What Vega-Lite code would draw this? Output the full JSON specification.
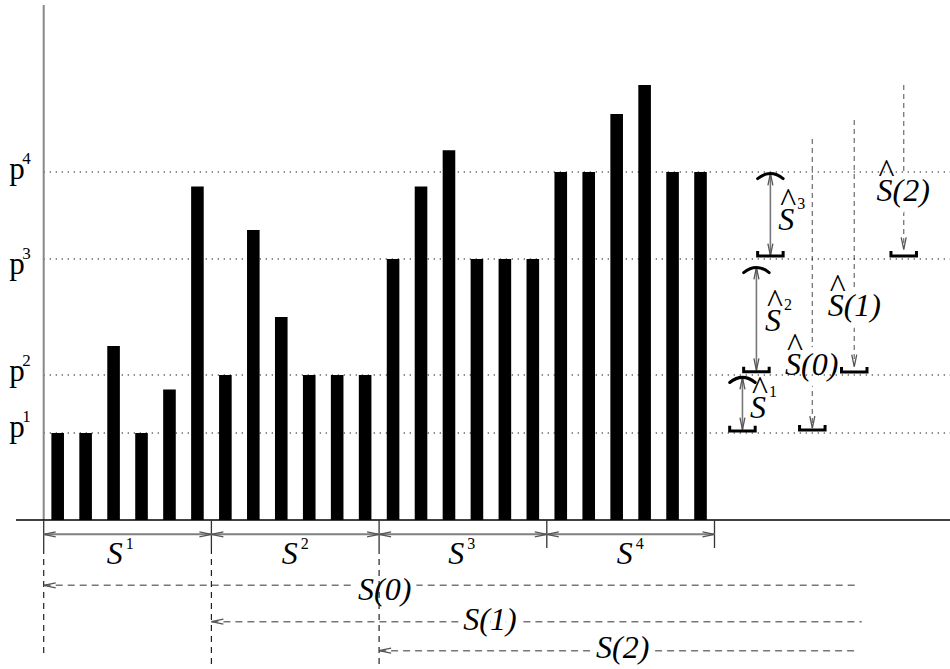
{
  "$schema": "https://vega.github.io/schema/vega-lite/v6.json",
  "width": 950,
  "height": 669,
  "padding": 0,
  "autosize": {"type": "none"},
  "background": "white",
  "config": {"view": {"stroke": null}},
  "datasets": {
    "bars": [
      {"x": 0.5, "y": 3}, {"x": 1.5, "y": 3}, {"x": 2.5, "y": 6}, {"x": 3.5, "y": 3}, {"x": 4.5, "y": 4.5}, {"x": 5.5, "y": 11.5},
      {"x": 6.5, "y": 5}, {"x": 7.5, "y": 10}, {"x": 8.5, "y": 7}, {"x": 9.5, "y": 5}, {"x": 10.5, "y": 5}, {"x": 11.5, "y": 5},
      {"x": 12.5, "y": 9}, {"x": 13.5, "y": 11.5}, {"x": 14.5, "y": 12.75}, {"x": 15.5, "y": 9}, {"x": 16.5, "y": 9}, {"x": 17.5, "y": 9},
      {"x": 18.5, "y": 12}, {"x": 19.5, "y": 12}, {"x": 20.5, "y": 14}, {"x": 21.5, "y": 15}, {"x": 22.5, "y": 12}, {"x": 23.5, "y": 12}
    ],
    "segs": [
      {"k": "axis", "x": 0, "x2": 0, "y": 0, "y2": 17.76},
      {"k": "base", "x": -0.991, "x2": 32.43, "y": 0, "y2": 0},
      {"k": "tick", "x": 0, "x2": 0, "y": 0, "y2": -0.966},
      {"k": "tick", "x": 6, "x2": 6, "y": 0, "y2": -0.966},
      {"k": "tick", "x": 12, "x2": 12, "y": 0, "y2": -0.966},
      {"k": "tick", "x": 18, "x2": 18, "y": 0, "y2": -0.966},
      {"k": "tick", "x": 24, "x2": 24, "y": 0, "y2": -0.966},
      {"k": "vdash", "x": 0, "x2": 0, "y": -0.966, "y2": -4.759},
      {"k": "vdash", "x": 6, "x2": 6, "y": -0.966, "y2": -5.14},
      {"k": "vdash", "x": 12, "x2": 12, "y": -0.966, "y2": -5.14},
      {"k": "span", "x": 0, "x2": 6, "y": -0.493, "y2": -0.493},
      {"k": "span", "x": 6, "x2": 12, "y": -0.493, "y2": -0.493},
      {"k": "span", "x": 12, "x2": 18, "y": -0.493, "y2": -0.493},
      {"k": "span", "x": 18, "x2": 24, "y": -0.493, "y2": -0.493},
      {"k": "sdash", "x": 0, "x2": 29.09, "y": -2.252, "y2": -2.252},
      {"k": "sdash", "x": 6, "x2": 29.27, "y": -3.507, "y2": -3.507},
      {"k": "sdash", "x": 12, "x2": 29.13, "y": -4.507, "y2": -4.507},
      {"k": "hdash", "x": 27.5, "x2": 27.5, "y": 13.14, "y2": 3.17},
      {"k": "hdash", "x": 29, "x2": 29, "y": 13.79, "y2": 5.29},
      {"k": "hdash", "x": 30.77, "x2": 30.77, "y": 15.0, "y2": 9.33},
      {"k": "harrow", "x": 25, "x2": 25, "y": 3.12, "y2": 4.92},
      {"k": "harrow", "x": 25.5, "x2": 25.5, "y": 5.16, "y2": 8.71},
      {"k": "harrow", "x": 26, "x2": 26, "y": 9.12, "y2": 11.95},
      {"k": "pdot", "x": 0, "x2": 32.43, "y": 3, "y2": 3},
      {"k": "pdot", "x": 0, "x2": 32.43, "y": 5, "y2": 5},
      {"k": "pdot", "x": 0, "x2": 32.43, "y": 9, "y2": 9},
      {"k": "pdot", "x": 0, "x2": 32.43, "y": 12, "y2": 12}
    ],
    "heads": [
      {"x": 0, "y": -0.493, "d": "L"}, {"x": 6, "y": -0.493, "d": "R"},
      {"x": 6, "y": -0.493, "d": "L"}, {"x": 12, "y": -0.493, "d": "R"},
      {"x": 12, "y": -0.493, "d": "L"}, {"x": 18, "y": -0.493, "d": "R"},
      {"x": 18, "y": -0.493, "d": "L"}, {"x": 24, "y": -0.493, "d": "R"},
      {"x": 0, "y": -2.252, "d": "L"}, {"x": 6, "y": -3.507, "d": "L"}, {"x": 12, "y": -4.507, "d": "L"},
      {"x": 25, "y": 4.92, "d": "U"}, {"x": 25, "y": 3.12, "d": "D"},
      {"x": 25.5, "y": 8.71, "d": "U"}, {"x": 25.5, "y": 5.16, "d": "D"},
      {"x": 26, "y": 11.95, "d": "U"}, {"x": 26, "y": 9.12, "d": "D"},
      {"x": 27.5, "y": 3.17, "d": "D"}, {"x": 29, "y": 5.29, "d": "D"}, {"x": 30.77, "y": 9.33, "d": "D"}
    ],
    "caps": [
      {"x": 25, "y": 3.07, "c": "cup"}, {"x": 25.5, "y": 5.11, "c": "cup"}, {"x": 26, "y": 9.1, "c": "cup"},
      {"x": 27.5, "y": 3.1, "c": "cup"}, {"x": 29, "y": 5.1, "c": "cup"}, {"x": 30.77, "y": 9.1, "c": "cup"},
      {"x": 25, "y": 4.83, "c": "cap"}, {"x": 25.5, "y": 8.62, "c": "cap"}, {"x": 26, "y": 11.86, "c": "cap"}
    ],
    "labels": [
      {"x": 2.254, "y": -1.517, "t": "S", "sup": "1", "hat": false},
      {"x": 8.515, "y": -1.517, "t": "S", "sup": "2", "hat": false},
      {"x": 14.476, "y": -1.517, "t": "S", "sup": "3", "hat": false},
      {"x": 20.501, "y": -1.517, "t": "S", "sup": "4", "hat": false},
      {"x": 11.245, "y": -2.759, "t": "S(0)", "sup": "", "hat": false},
      {"x": 15.01, "y": -3.793, "t": "S(1)", "sup": "", "hat": false},
      {"x": 19.76, "y": -4.759, "t": "S(2)", "sup": "", "hat": false},
      {"x": 25.27, "y": 3.517, "t": "S", "sup": "1", "hat": true},
      {"x": 25.807, "y": 6.517, "t": "S", "sup": "2", "hat": true},
      {"x": 26.283, "y": 10.0, "t": "S", "sup": "3", "hat": true},
      {"x": 26.523, "y": 5.0, "t": "S(0)", "sup": "", "hat": true},
      {"x": 28.05, "y": 7.03, "t": "S(1)", "sup": "", "hat": true},
      {"x": 29.8, "y": 11.0, "t": "S(2)", "sup": "", "hat": true}
    ],
    "plabels": [
      {"x": -1.231, "y": 2.86, "t": "p", "sup": "1"},
      {"x": -1.231, "y": 4.81, "t": "p", "sup": "2"},
      {"x": -1.231, "y": 8.48, "t": "p", "sup": "3"},
      {"x": -1.231, "y": 11.76, "t": "p", "sup": "4"}
    ]
  },
  "encoding": {
    "x": {"field": "x", "type": "quantitative", "axis": null, "scale": {"domain": [-1.5635, 32.426], "nice": false, "zero": false, "padding": 0}},
    "y": {"field": "y", "type": "quantitative", "axis": null, "scale": {"domain": [-5.138, 17.931], "nice": false, "zero": false, "padding": 0}}
  },
  "layer": [
    {
      "data": {"name": "segs"},
      "transform": [{"filter": "datum.k == 'sdash'"}],
      "mark": {"type": "rule", "stroke": "#777777", "strokeWidth": 1.4, "strokeDash": [7, 5]},
      "encoding": {"x2": {"field": "x2"}, "y2": {"field": "y2"}}
    },
    {
      "data": {"name": "segs"},
      "transform": [{"filter": "datum.k == 'hdash'"}],
      "mark": {"type": "rule", "stroke": "#777777", "strokeWidth": 1.3, "strokeDash": [5, 4]},
      "encoding": {"x2": {"field": "x2"}, "y2": {"field": "y2"}}
    },
    {
      "data": {"name": "labels"},
      "transform": [{"filter": "indexof(datum.t, '(') >= 0"}],
      "mark": {"type": "text", "align": "left", "baseline": "alphabetic", "font": "Liberation Serif", "fontStyle": "italic", "fontSize": 32, "fill": "white", "stroke": "white", "strokeWidth": 12, "strokeJoin": "round"},
      "encoding": {"text": {"field": "t"}}
    },
    {
      "data": {"name": "segs"},
      "transform": [{"filter": "datum.k == 'pdot'"}],
      "mark": {"type": "rule", "stroke": "#000000", "strokeWidth": 1.1, "strokeDash": [1.2, 4.8]},
      "encoding": {"x2": {"field": "x2"}, "y2": {"field": "y2"}}
    },
    {
      "data": {"name": "bars"},
      "mark": {"type": "bar", "orient": "vertical", "size": 12.6, "color": "#000000"},
      "encoding": {"y2": {"datum": 0}}
    },
    {
      "data": {"name": "segs"},
      "transform": [{"filter": "datum.k == 'axis'"}],
      "mark": {"type": "rule", "stroke": "#888888", "strokeWidth": 2},
      "encoding": {"x2": {"field": "x2"}, "y2": {"field": "y2"}}
    },
    {
      "data": {"name": "segs"},
      "transform": [{"filter": "datum.k == 'base'"}],
      "mark": {"type": "rule", "stroke": "#000000", "strokeWidth": 1.6},
      "encoding": {"x2": {"field": "x2"}, "y2": {"field": "y2"}}
    },
    {
      "data": {"name": "segs"},
      "transform": [{"filter": "datum.k == 'tick'"}],
      "mark": {"type": "rule", "stroke": "#333333", "strokeWidth": 1.3},
      "encoding": {"x2": {"field": "x2"}, "y2": {"field": "y2"}}
    },
    {
      "data": {"name": "segs"},
      "transform": [{"filter": "datum.k == 'vdash'"}],
      "mark": {"type": "rule", "stroke": "#222222", "strokeWidth": 1.2, "strokeDash": [6, 5]},
      "encoding": {"x2": {"field": "x2"}, "y2": {"field": "y2"}}
    },
    {
      "data": {"name": "segs"},
      "transform": [{"filter": "datum.k == 'span'"}],
      "mark": {"type": "rule", "stroke": "#808080", "strokeWidth": 2},
      "encoding": {"x2": {"field": "x2"}, "y2": {"field": "y2"}}
    },
    {
      "data": {"name": "segs"},
      "transform": [{"filter": "datum.k == 'harrow'"}],
      "mark": {"type": "rule", "stroke": "#777777", "strokeWidth": 1.6},
      "encoding": {"x2": {"field": "x2"}, "y2": {"field": "y2"}}
    },
    {
      "data": {"name": "heads"},
      "transform": [{"filter": "datum.d == 'L'"}],
      "mark": {"type": "point", "shape": "M2.4,-0.5L0,0L2.4,0.5", "size": 100, "filled": false, "color": "#555555", "strokeWidth": 1.3, "opacity": 1}
    },
    {
      "data": {"name": "heads"},
      "transform": [{"filter": "datum.d == 'R'"}],
      "mark": {"type": "point", "shape": "M-2.4,-0.5L0,0L-2.4,0.5", "size": 100, "filled": false, "color": "#555555", "strokeWidth": 1.3, "opacity": 1}
    },
    {
      "data": {"name": "heads"},
      "transform": [{"filter": "datum.d == 'U'"}],
      "mark": {"type": "point", "shape": "M-0.5,2.4L0,0L0.5,2.4", "size": 100, "filled": false, "color": "#555555", "strokeWidth": 1.3, "opacity": 1}
    },
    {
      "data": {"name": "heads"},
      "transform": [{"filter": "datum.d == 'D'"}],
      "mark": {"type": "point", "shape": "M-0.5,-2.4L0,0L0.5,-2.4", "size": 100, "filled": false, "color": "#555555", "strokeWidth": 1.3, "opacity": 1}
    },
    {
      "data": {"name": "caps"},
      "transform": [{"filter": "datum.c == 'cup'"}],
      "mark": {"type": "point", "shape": "M-1,-0.4L-1,0L1,0L1,-0.4", "size": 650, "filled": false, "color": "#000000", "strokeWidth": 3, "opacity": 1, "strokeCap": "butt"}
    },
    {
      "data": {"name": "caps"},
      "transform": [{"filter": "datum.c == 'cap'"}],
      "mark": {"type": "point", "shape": "M-1,0.2Q0,-0.6 1,0.2", "size": 650, "filled": false, "color": "#000000", "strokeWidth": 3, "opacity": 1, "strokeCap": "round"}
    },
    {
      "data": {"name": "labels"},
      "mark": {"type": "text", "align": "left", "baseline": "alphabetic", "font": "Liberation Serif", "fontStyle": "italic", "fontSize": 32, "fill": "#000000"},
      "encoding": {"text": {"field": "t"}}
    },
    {
      "data": {"name": "labels"},
      "transform": [{"filter": "datum.hat"}],
      "mark": {"type": "text", "align": "center", "baseline": "alphabetic", "font": "Liberation Serif", "fontSize": 34, "dx": 10, "dy": -19, "fill": "#000000"},
      "encoding": {"text": {"value": "^"}}
    },
    {
      "data": {"name": "labels"},
      "transform": [{"filter": "!datum.hat && datum.sup != ''"}],
      "mark": {"type": "text", "align": "left", "baseline": "alphabetic", "font": "Liberation Serif", "fontSize": 16, "dx": 19, "dy": -15, "fill": "#000000"},
      "encoding": {"text": {"field": "sup"}}
    },
    {
      "data": {"name": "labels"},
      "transform": [{"filter": "datum.hat && datum.sup != ''"}],
      "mark": {"type": "text", "align": "left", "baseline": "alphabetic", "font": "Liberation Serif", "fontSize": 16, "dx": 19, "dy": -21, "fill": "#000000"},
      "encoding": {"text": {"field": "sup"}}
    },
    {
      "data": {"name": "plabels"},
      "mark": {"type": "text", "align": "left", "baseline": "alphabetic", "font": "Liberation Serif", "fontSize": 31, "fill": "#000000"},
      "encoding": {"text": {"field": "t"}}
    },
    {
      "data": {"name": "plabels"},
      "mark": {"type": "text", "align": "left", "baseline": "alphabetic", "font": "Liberation Serif", "fontSize": 17, "dx": 13, "dy": -15, "fill": "#000000"},
      "encoding": {"text": {"field": "sup"}}
    }
  ]
}
